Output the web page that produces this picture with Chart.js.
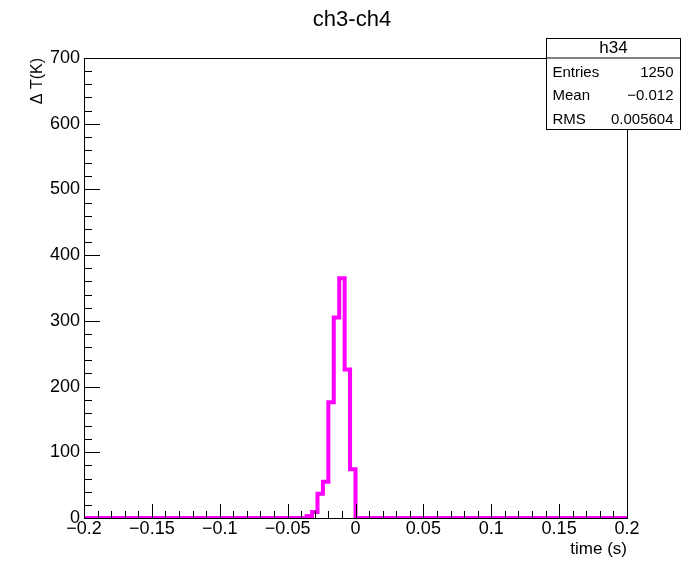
<!DOCTYPE html>
<html><head><meta charset="utf-8">
<script src="https://cdn.jsdelivr.net/npm/chart.js@4/dist/chart.umd.min.js"></script>
<style>html,body{margin:0;padding:0;background:#fff}</style>
</head><body>
<canvas id="c" width="698" height="561"></canvas>
<script>
// ---- data ----
const chartTitle = "ch3-ch4";
const histName = "h34";
const xAxisTitle = "time (s)";
const yAxisTitle = "Δ T(K)";
const xMin = -0.2, xMax = 0.2, binWidth = 0.004;
// 100 bins from -0.2 to 0.2
const counts = [
  0,0,0,0,0,0,0,0,0,0,
  0,0,0,0,0,0,0,0,0,0,
  0,0,0,0,0,0,0,0,0,0,
  0,0,0,0,0,0,0,0,0,0,
  0,3,9,37,55,176,305,365,226,74,
  0,0,0,0,0,0,0,0,0,0,
  0,0,0,0,0,0,0,0,0,0,
  0,0,0,0,0,0,0,0,0,0,
  0,0,0,0,0,0,0,0,0,0,
  0,0,0,0,0,0,0,0,0,0
];
const xTickValues = [-0.2,-0.15,-0.1,-0.05,0,0.05,0.1,0.15,0.2];
const yTickValues = [0,100,200,300,400,500,600,700];
const statsLabels = ["Entries","Mean","RMS"];
const statsValues = ["1250","\u22120.012","0.005604"];

const FONT = "'Liberation Sans', Arial, Helvetica, sans-serif";
const points = counts.map((c,i)=>({x: xMin + i*binWidth, y: c}));
points.push({x: xMax, y: counts[counts.length-1]});

const fmt = v => (Math.abs(v) < 1e-12 ? "0" : String(+v.toFixed(4))).replace('-', '\u2212');

const rootPlugin = {
  id: 'rootFrame',
  afterDraw(chart) {
    const {ctx, chartArea: a, scales: {x, y}} = chart;
    ctx.save();
    ctx.strokeStyle = '#000';
    ctx.lineWidth = 1;
    // frame
    ctx.strokeRect(Math.round(a.left)+0.5, Math.round(a.top)+0.5, Math.round(a.right-a.left), Math.round(a.bottom-a.top));
    ctx.beginPath();
    // x ticks (major + minor), pointing inside
    const xMajLen = 14, xMinLen = 7;
    for (let k = 0; k <= 40; k++) {
      const v = xMin + k*0.01;
      const px = Math.round(x.getPixelForValue(v)) + 0.5;
      const len = (k % 5 === 0) ? xMajLen : xMinLen;
      ctx.moveTo(px, a.bottom); ctx.lineTo(px, a.bottom - len);
    }
    // y ticks
    const yMajLen = 16, yMinLen = 8;
    for (let k = 0; k <= 35; k++) {
      const v = k*20;
      const py = Math.round(y.getPixelForValue(v)) + 0.5;
      const len = (k % 5 === 0) ? yMajLen : yMinLen;
      ctx.moveTo(a.left, py); ctx.lineTo(a.left + len, py);
    }
    ctx.stroke();
    // stats box
    const bx = 546.5, by = 38.5, bw = 134, bh = 91;
    ctx.fillStyle = '#fff';
    ctx.fillRect(bx, by, bw, bh);
    ctx.strokeRect(bx, by, bw, bh);
    ctx.beginPath(); ctx.moveTo(bx, by+19.5); ctx.lineTo(bx+bw, by+19.5); ctx.stroke();
    ctx.fillStyle = '#000';
    ctx.textBaseline = 'middle';
    ctx.font = '17px ' + FONT;
    ctx.textAlign = 'center';
    ctx.fillText(histName, bx + bw/2, by + 10);
    ctx.font = '15px ' + FONT;
    statsLabels.forEach((lab, i) => {
      const ty = by + 34 + i*23.5;
      ctx.textAlign = 'left';
      ctx.fillText(lab, bx + 6, ty);
      ctx.textAlign = 'right';
      ctx.fillText(statsValues[i], bx + bw - 7, ty);
    });
    ctx.restore();
  }
};

new Chart(document.getElementById('c'), {
  type: 'line',
  data: { datasets: [{
    data: points,
    stepped: 'before',
    borderColor: '#ff00ff',
    borderWidth: 4,
    pointRadius: 0,
    fill: false,
    tension: 0,
    yAxisID: 'y'
  }]},
  options: {
    responsive: false, animation: false, devicePixelRatio: 1,
    layout: { padding: { left: 6, right: 0, top: 0, bottom: 0 } },
    plugins: {
      legend: { display: false }, tooltip: { enabled: false },
      title: { display: true, text: chartTitle, color: '#000',
        font: { family: FONT, size: 22, weight: 'normal', lineHeight: 1.2 },
        padding: { top: 7, bottom: 24.6 } }
    },
    scales: {
      x: {
        type: 'linear', min: xMin, max: xMax,
        afterBuildTicks: s => { s.ticks = xTickValues.map(v => ({ value: v })); },
        ticks: { autoSkip: false, maxRotation: 0, padding: 0, color: '#000',
          font: { family: FONT, size: 18 }, callback: v => fmt(v) },
        grid: { display: false, drawTicks: false, tickLength: 0 },
        border: { display: false },
        title: { display: true, text: xAxisTitle, align: 'end', color: '#000',
          font: { family: FONT, size: 17, lineHeight: 1.2 }, padding: { top: 0, bottom: 1 } },
        afterFit: s => { s.height = 43; }
      },
      y: {
        type: 'linear', position: 'left', min: 0, max: 700,
        afterBuildTicks: s => { s.ticks = yTickValues.map(v => ({ value: v })); },
        ticks: { autoSkip: false, padding: 4, color: '#000',
          font: { family: FONT, size: 18 }, callback: v => fmt(v) },
        grid: { display: false, drawTicks: false, tickLength: 0 },
        border: { display: false },
        title: { display: true, text: yAxisTitle, align: 'end', color: '#000',
          font: { family: FONT, size: 16, lineHeight: 1.2 }, padding: { top: 22, bottom: 0 } },
        afterFit: s => { s.width = 78; }
      },
      yR: {
        type: 'linear', position: 'right', display: true, min: 0, max: 700,
        ticks: { display: false },
        grid: { display: false, drawTicks: false },
        border: { display: false },
        afterFit: s => { s.width = 71; }
      }
    }
  },
  plugins: [rootPlugin]
});
</script>
</body></html>
